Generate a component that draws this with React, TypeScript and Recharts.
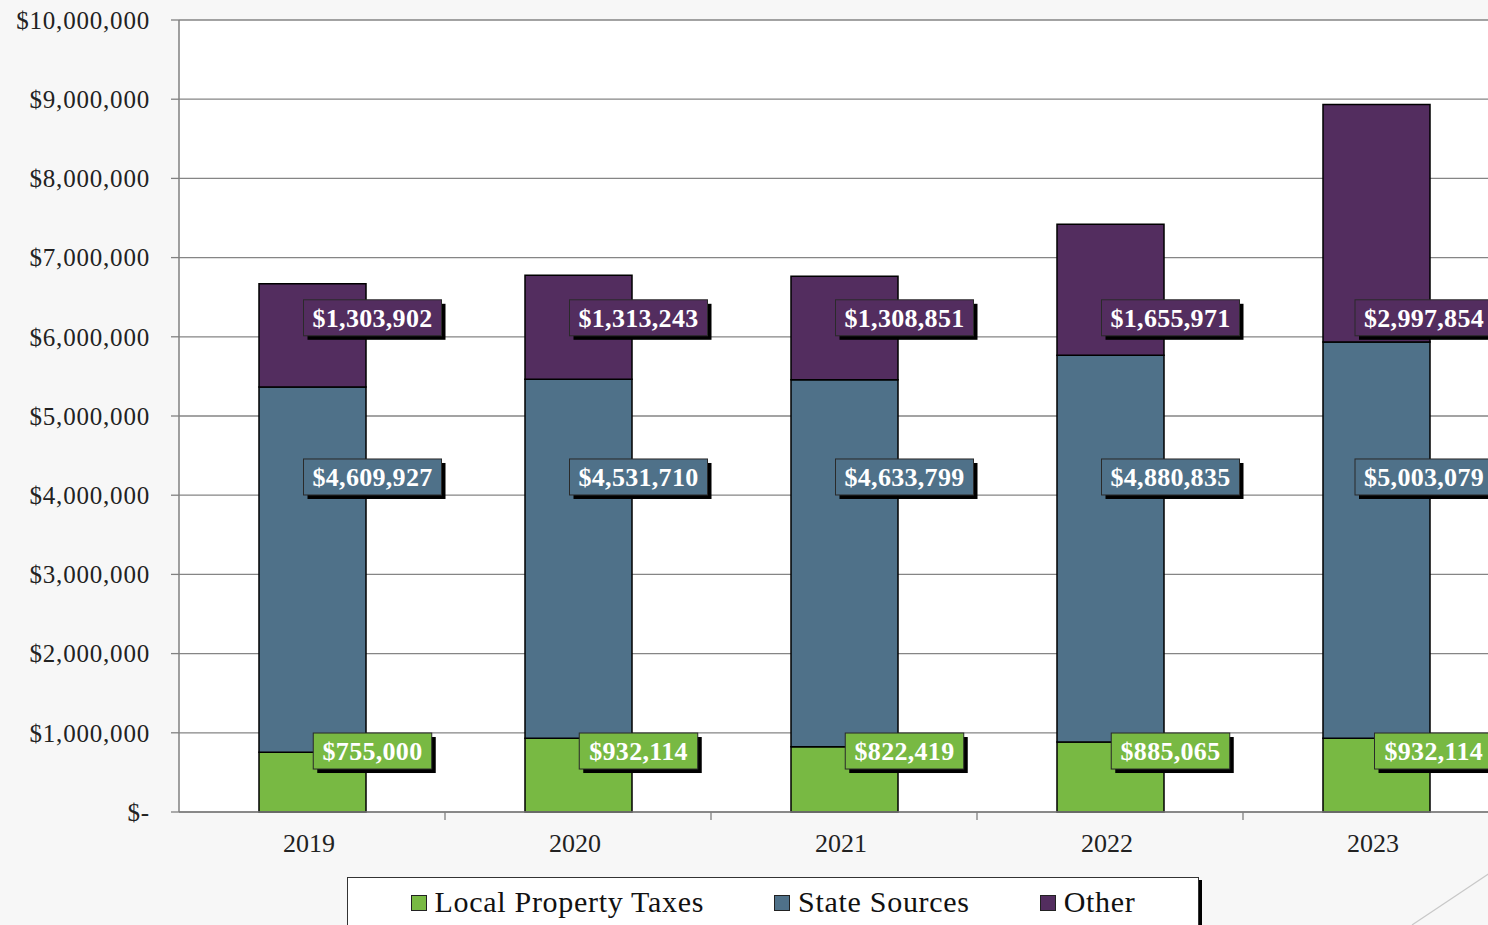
import { BarChart, Bar, XAxis, YAxis, CartesianGrid, LabelList } from "recharts";

const years = ["2019", "2020", "2021", "2022", "2023"];
const localTaxes = [755000, 932114, 822419, 885065, 932114];
const stateSources = [4609927, 4531710, 4633799, 4880835, 5003079];
const other = [1303902, 1313243, 1308851, 1655971, 2997854];
const yTicks = [0, 1000000, 2000000, 3000000, 4000000, 5000000, 6000000, 7000000, 8000000, 9000000, 10000000];

const GREEN = "#78b943";
const BLUE = "#4f7189";
const PURPLE = "#532d5f";
const FONT = '"Liberation Serif", "Times New Roman", serif';

const W = 1520;
const H = 925;
const VISIBLE_W = 1488;
const TOP = 20;
const LEFT = 179;
const RIGHT = 11;
const PLOT_BOTTOM = 812;
const PLOT_H = PLOT_BOTTOM - TOP;
const BAND = (W - LEFT - RIGHT) / years.length;
const MAX = 10000000;

// label rows sit at fixed heights, like the moved labels in the original
const LABEL_AT = { local: 770000, state: 4230000, other: 6240000 };

const data = years.map((year, i) => ({
  year,
  local: localTaxes[i],
  state: stateSources[i],
  other: other[i],
}));

const money = (v: number) => (v === 0 ? "$-" : "$" + v.toLocaleString("en-US"));
const toPx = (v: number) => TOP + (1 - v / MAX) * PLOT_H;

function textWidth(s: string, size: number) {
  let w = 0;
  for (const ch of s) w += ch === "," ? 0.25 : 0.5;
  return w * size;
}

function ValueBox({ cx, cy, value, fill }: { cx: number; cy: number; value: number; fill: string }) {
  const txt = money(value);
  const tw = textWidth(txt, 26) + 3;
  // keep the text inside the visible page
  const c = Math.min(cx, VISIBLE_W - 4 - tw / 2);
  const bw = tw + 18;
  const bh = 36;
  const x = c - bw / 2;
  const y = cy - bh / 2;
  return (
    <g>
      <rect x={x + 4} y={y + 4} width={bw} height={bh} fill="#000" />
      <rect x={x} y={y} width={bw} height={bh} fill={fill} stroke="#2a2a2a" strokeWidth={1} />
      <text
        x={c}
        y={cy + 9}
        textAnchor="middle"
        fill="#fff"
        fontFamily={FONT}
        fontWeight="bold"
        fontSize={26}
        letterSpacing={0.3}
      >
        {txt}
      </text>
    </g>
  );
}

function AllLabels(props: any) {
  const { x, width, index } = props;
  const cx = Number(x) + Number(width) / 2 + 60;
  return (
    <g>
      <ValueBox cx={cx} cy={toPx(LABEL_AT.other)} value={other[index]} fill={PURPLE} />
      <ValueBox cx={cx} cy={toPx(LABEL_AT.state)} value={stateSources[index]} fill={BLUE} />
      <ValueBox cx={cx} cy={toPx(LABEL_AT.local)} value={localTaxes[index]} fill={GREEN} />
    </g>
  );
}

function YearTick(props: any) {
  const { x, payload } = props;
  return (
    <g>
      <line x1={x + BAND / 2} y1={PLOT_BOTTOM} x2={x + BAND / 2} y2={PLOT_BOTTOM + 8} stroke="#808080" strokeWidth={1.3} />
      <text x={x - 3} y={PLOT_BOTTOM + 40} textAnchor="middle" fill="#222" fontFamily={FONT} fontSize={26}>
        {payload.value}
      </text>
    </g>
  );
}

const legendItems = [
  { name: "Local Property Taxes", color: GREEN },
  { name: "State Sources", color: BLUE },
  { name: "Other", color: PURPLE },
];

export default function App() {
  return (
    <div
      style={{
        position: "fixed",
        left: 0,
        top: 0,
        width: VISIBLE_W,
        height: 925,
        overflow: "hidden",
        background: "#f7f7f7",
      }}
    >
      <BarChart
        width={W}
        height={H}
        data={data}
        margin={{ top: TOP, right: RIGHT, bottom: H - PLOT_BOTTOM - 40, left: 0 }}
      >
        <CartesianGrid vertical={false} stroke="#858585" strokeWidth={1.3} fill="#ffffff" />
        <YAxis
          width={LEFT}
          domain={[0, MAX]}
          ticks={yTicks}
          tickFormatter={money}
          tickSize={8}
          tickMargin={21}
          axisLine={{ stroke: "#808080", strokeWidth: 1.5 }}
          tickLine={{ stroke: "#808080", strokeWidth: 1.3 }}
          tick={{ fill: "#222", fontFamily: FONT, fontSize: 25, letterSpacing: 0.8 }}
        />
        <XAxis
          dataKey="year"
          height={40}
          tickLine={false}
          axisLine={{ stroke: "#808080", strokeWidth: 1.5 }}
          tick={<YearTick />}
        />
        <Bar dataKey="local" stackId="a" fill={GREEN} stroke="#000" strokeWidth={1.5} barSize={107} isAnimationActive={false} />
        <Bar dataKey="state" stackId="a" fill={BLUE} stroke="#000" strokeWidth={1.5} barSize={107} isAnimationActive={false} />
        <Bar dataKey="other" stackId="a" fill={PURPLE} stroke="#000" strokeWidth={1.5} barSize={107} isAnimationActive={false}>
          <LabelList dataKey="other" content={<AllLabels />} />
        </Bar>
      </BarChart>

      <div
        style={{
          position: "absolute",
          left: 347,
          top: 877,
          width: 852,
          height: 60,
          background: "#fff",
          border: "1px solid #333",
          boxShadow: "3px 3px 0 #000",
          display: "flex",
          justifyContent: "center",
          gap: 70,
          paddingTop: 8,
          boxSizing: "border-box",
          fontFamily: FONT,
          fontSize: 30,
          color: "#111",
        }}
      >
        {legendItems.map((it) => (
          <div key={it.name} style={{ display: "flex", alignItems: "flex-start" }}>
            <span
              style={{
                display: "inline-block",
                width: 14,
                height: 14,
                marginTop: 9,
                marginRight: 8,
                background: it.color,
                border: "1px solid #222",
              }}
            />
            <span style={{ lineHeight: "32px", letterSpacing: 0.7 }}>{it.name}</span>
          </div>
        ))}
      </div>

      <svg style={{ position: "absolute", left: 0, top: 0 }} width={VISIBLE_W} height={925}>
        <line x1={1412} y1={925} x2={1490} y2={873} stroke="#c8c8c8" strokeWidth={1.2} />
      </svg>
    </div>
  );
}
